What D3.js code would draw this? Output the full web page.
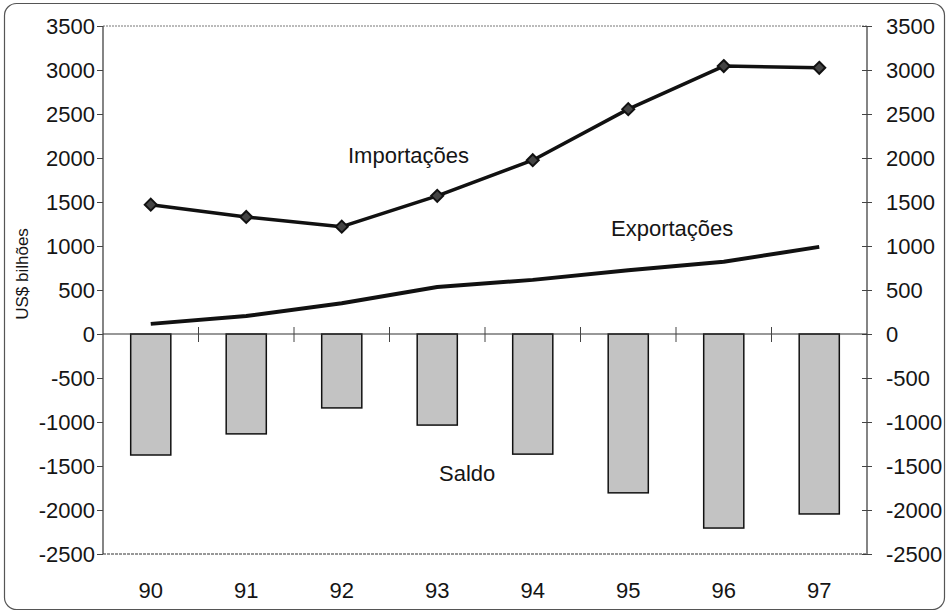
<!DOCTYPE html>
<html>
<head>
<meta charset="utf-8">
<script src="https://cdn.jsdelivr.net/npm/d3@7"></script>
<style>
html,body{margin:0;padding:0;background:#fff;}
svg text{font-family:"Liberation Sans",Arial,sans-serif;fill:#151515;}
</style>
</head>
<body>
<svg id="chart" width="949" height="614"></svg>
<script>
const years = ["90","91","92","93","94","95","96","97"];
const importacoes = [1470, 1330, 1220, 1570, 1975, 2555, 3045, 3025];
const exportacoes = [115, 205, 350, 535, 615, 725, 820, 990];
const saldo = [-1375, -1135, -840, -1035, -1365, -1805, -2205, -2045];
const yTicks = [3500, 3000, 2500, 2000, 1500, 1000, 500, 0, -500, -1000, -1500, -2000, -2500];

const svg = d3.select("#chart");
const m = {left: 103, right: 867, top: 26, bottom: 554};
const fmt = d => String(d);

// outer rounded frame
svg.append("rect").attr("x", 4.5).attr("y", 3.5).attr("width", 940).attr("height", 606)
  .attr("rx", 12).attr("fill", "none").attr("stroke", "#555").attr("stroke-width", 1.2);

const x = d3.scaleBand().domain(years).range([m.left, m.right]).paddingInner(0.58).paddingOuter(0.29);
const xPoint = d => x(d) + x.bandwidth() / 2;
const y = d3.scaleLinear().domain([-2500, 3500]).range([m.bottom, m.top]);

// top frame (dotted)
svg.append("line").attr("x1", m.left).attr("x2", m.right).attr("y1", m.top).attr("y2", m.top)
  .attr("stroke", "#777").attr("stroke-width", 1).attr("stroke-dasharray", "2,1");

// bars
svg.append("g").selectAll("rect").data(saldo).join("rect")
  .attr("x", (d, i) => x(years[i]))
  .attr("y", y(0))
  .attr("width", x.bandwidth())
  .attr("height", d => y(d) - y(0))
  .attr("fill", "#c3c3c3")
  .attr("stroke", "#111").attr("stroke-width", 1.5);

// left axis
const leftAxis = d3.axisLeft(y).tickValues(yTicks).tickSize(6).tickPadding(2).tickFormat(fmt);
const gl = svg.append("g").attr("transform", `translate(${m.left},0)`).call(leftAxis);
gl.select(".domain").attr("stroke", "#333").attr("stroke-width", 1.2).attr("d", `M0,${m.top}V${m.bottom}`);
gl.selectAll(".tick line").attr("stroke", "#444");
gl.selectAll(".tick text").attr("font-size", 22).attr("dy", "0.35em").style("font-family", "Liberation Sans, Arial, sans-serif");

// right axis
const rightAxis = d3.axisRight(y).tickValues(yTicks).tickSize(5).tickPadding(14).tickFormat(fmt);
const gr = svg.append("g").attr("transform", `translate(${m.right},0)`).call(rightAxis);
gr.select(".domain").attr("stroke", "#333").attr("stroke-width", 1.2).attr("d", `M0,${m.top}V${m.bottom}`);
gr.selectAll(".tick line").attr("stroke", "#444").attr("x1", -5);
gr.selectAll(".tick text").attr("font-size", 22).attr("dy", "0.35em").style("font-family", "Liberation Sans, Arial, sans-serif");

// bottom axis
const bottomAxis = d3.axisBottom(x).tickSize(0).tickPadding(36);
const gb = svg.append("g").attr("transform", `translate(0,${m.bottom})`).call(bottomAxis);
gb.select(".domain").attr("stroke", "#333").attr("stroke-width", 1.2).attr("stroke-dasharray", "3,1").attr("d", `M${m.left},0H${m.right}`);
gb.selectAll(".tick text").attr("font-size", 22).attr("dy", "0.35em").style("font-family", "Liberation Sans, Arial, sans-serif");

// zero line with crossing ticks
svg.append("line").attr("x1", m.left).attr("x2", m.right).attr("y1", y(0)).attr("y2", y(0))
  .attr("stroke", "#333").attr("stroke-width", 1.1);
const step = x.step();
const sep = d3.range(1, years.length).map(i => m.left + step * i);
svg.append("g").selectAll("line").data(sep).join("line")
  .attr("x1", d => d).attr("x2", d => d)
  .attr("y1", y(0) - 7).attr("y2", y(0) + 8)
  .attr("stroke", "#444").attr("stroke-width", 1);

// lines
const line = d3.line().x((d, i) => xPoint(years[i])).y(d => y(d));
svg.append("path").datum(exportacoes).attr("d", line)
  .attr("fill", "none").attr("stroke", "#111").attr("stroke-width", 4).attr("stroke-linejoin", "round");
svg.append("path").datum(importacoes).attr("d", line)
  .attr("fill", "none").attr("stroke", "#111").attr("stroke-width", 3.5).attr("stroke-linejoin", "round");

// diamond markers
svg.append("g").selectAll("path").data(importacoes).join("path")
  .attr("transform", (d, i) => `translate(${xPoint(years[i])},${y(d)})`)
  .attr("d", "M0,-6L6,0L0,6L-6,0Z")
  .attr("fill", "#444").attr("stroke", "#111").attr("stroke-width", 2);

// series labels
svg.append("text").attr("x", 348).attr("y", 163).attr("font-size", 22).text("Importações");
svg.append("text").attr("x", 611).attr("y", 236).attr("font-size", 22).text("Exportações");
svg.append("text").attr("x", 439).attr("y", 481).attr("font-size", 22).text("Saldo");

// y axis title
svg.append("text").attr("transform", "translate(28,274) rotate(-90)")
  .attr("text-anchor", "middle").attr("font-size", 17).text("US$ bilhões");
</script>
</body>
</html>
